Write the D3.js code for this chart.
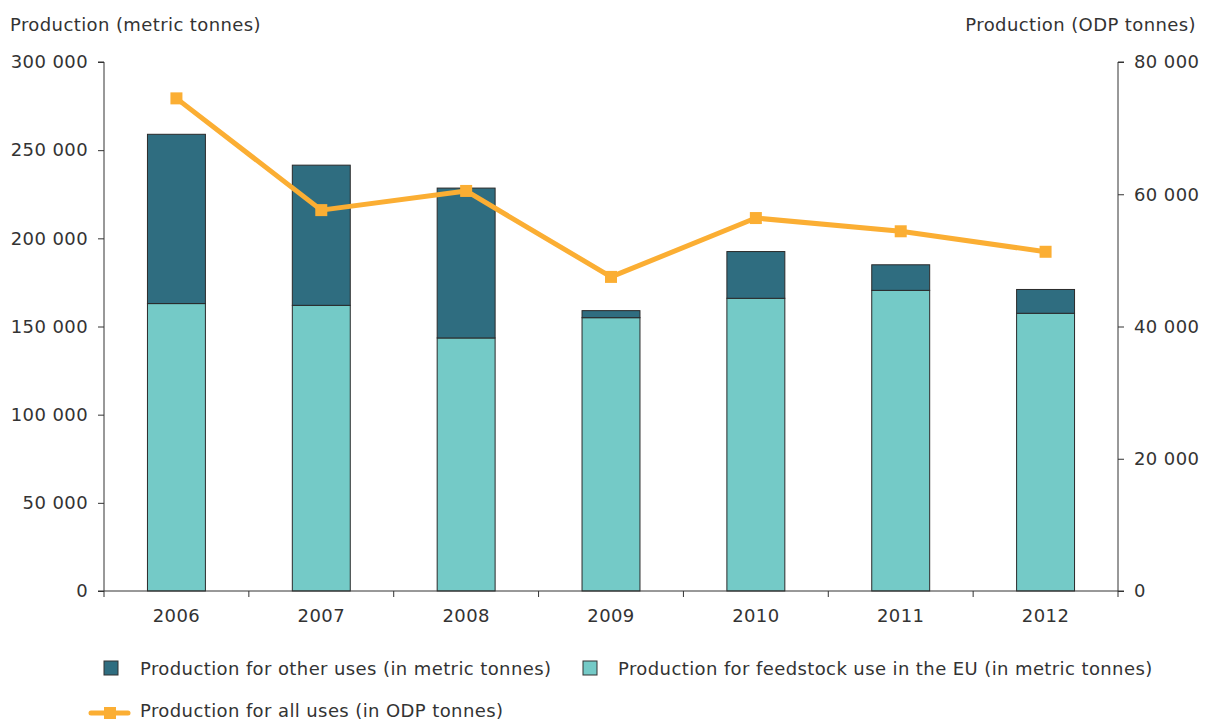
<!DOCTYPE html>
<html><head><meta charset="utf-8">
<script src="https://cdn.jsdelivr.net/npm/d3@7"></script>
<style>body{margin:0;background:#fff}svg{display:block}text{font-family:"DejaVu Sans",Verdana,sans-serif;fill:#333;letter-spacing:0.4px}</style>
</head><body>
<svg id="c" width="1205" height="722"></svg>
<script>
const years = ["2006","2007","2008","2009","2010","2011","2012"];
const feedstock = [163000,162000,143500,155000,166000,170500,157500];
const otherUses = [96000,79500,85000,4000,26500,14500,13500];
const odpAll = [74500,57600,60500,47500,56400,54400,51300];
const leftTicks = [0,50000,100000,150000,200000,250000,300000];
const rightTicks = [0,20000,40000,60000,80000];

const svg = d3.select("#c");
const L=104,R=1118,T=62,B=591;
const x = d3.scaleBand().domain(years).range([L,R]).paddingInner(0.6).paddingOuter(0.3);
const xb = d3.scaleBand().domain(years).range([L,R]);
const yL = d3.scaleLinear().domain([0,300000]).range([B,T]);
const yR = d3.scaleLinear().domain([0,80000]).range([B,T]);
const fmt = v => d3.format(",")(v).replace(/,/g," ");
const fs = 18;

// bars
const g = svg.append("g");
years.forEach((yr,i)=>{
  g.append("rect").attr("x",x(yr)).attr("width",x.bandwidth())
    .attr("y",yL(feedstock[i])).attr("height",yL(0)-yL(feedstock[i]))
    .attr("fill","#74cac7").attr("stroke","#2a2a2a").attr("stroke-width",1);
  g.append("rect").attr("x",x(yr)).attr("width",x.bandwidth())
    .attr("y",yL(feedstock[i]+otherUses[i])).attr("height",yL(feedstock[i])-yL(feedstock[i]+otherUses[i]))
    .attr("fill","#2f6d80").attr("stroke","#2a2a2a").attr("stroke-width",1);
});

// axes
const axL = svg.append("g").attr("transform",`translate(${L},0)`)
  .call(d3.axisLeft(yL).tickValues(leftTicks).tickFormat(fmt).tickSize(6).tickPadding(10));
const axR = svg.append("g").attr("transform",`translate(${R},0)`)
  .call(d3.axisRight(yR).tickValues(rightTicks).tickFormat(fmt).tickSize(6).tickPadding(10));
const axX = svg.append("g").attr("transform",`translate(0,${B})`)
  .call(d3.axisBottom(x).tickSize(0).tickPadding(18));
axX.select(".domain").attr("d",`M${L},0H${R}`);
axX.selectAll(".btick").data(years.concat(["end"])).enter().append("line")
  .attr("x1",(d,i)=> i<years.length? xb(d): R).attr("x2",(d,i)=> i<years.length? xb(d): R)
  .attr("y1",0).attr("y2",6).attr("stroke","#333");
[axL,axR,axX].forEach(a=>{
  a.selectAll("text").style("font-size",fs+"px").style("font-family","'DejaVu Sans',Verdana,sans-serif").attr("fill","#333");
  a.selectAll("path,line").attr("stroke","#333");
});
axL.select(".domain").attr("d",`M-6,${T}H0V${B}H-6`);
axR.select(".domain").attr("d",`M6,${T}H0V${B}H6`);

// titles
svg.append("text").attr("x",10).attr("y",31).style("font-size",fs+"px").text("Production (metric tonnes)");
svg.append("text").attr("x",1196).attr("y",31).attr("text-anchor","end").style("font-size",fs+"px").text("Production (ODP tonnes)");

// line
const line = d3.line().x((d,i)=>x(years[i])+x.bandwidth()/2).y(d=>yR(d));
svg.append("path").datum(odpAll).attr("d",line).attr("fill","none").attr("stroke","#fbae33").attr("stroke-width",5).attr("stroke-linejoin","round");
svg.selectAll(".mk").data(odpAll).enter().append("rect")
  .attr("x",(d,i)=>x(years[i])+x.bandwidth()/2-6).attr("y",d=>yR(d)-6).attr("width",12).attr("height",12).attr("fill","#fbae33");

// legend
const lg = svg.append("g");
lg.append("rect").attr("x",104).attr("y",661).attr("width",14).attr("height",14).attr("fill","#2f6d80").attr("stroke","#333");
lg.append("text").attr("x",140).attr("y",675).style("font-size",fs+"px").text("Production for other uses (in metric tonnes)");
lg.append("rect").attr("x",583).attr("y",661).attr("width",14).attr("height",14).attr("fill","#74cac7").attr("stroke","#333");
lg.append("text").attr("x",618).attr("y",675).style("font-size",fs+"px").text("Production for feedstock use in the EU (in metric tonnes)");
lg.append("line").attr("x1",91).attr("x2",128).attr("y1",713).attr("y2",713).attr("stroke","#fbae33").attr("stroke-width",5).attr("stroke-linecap","round");
lg.append("rect").attr("x",104).attr("y",707).attr("width",12).attr("height",12).attr("fill","#fbae33");
lg.append("text").attr("x",140).attr("y",717).style("font-size",fs+"px").text("Production for all uses (in ODP tonnes)");
</script>
</body></html>
